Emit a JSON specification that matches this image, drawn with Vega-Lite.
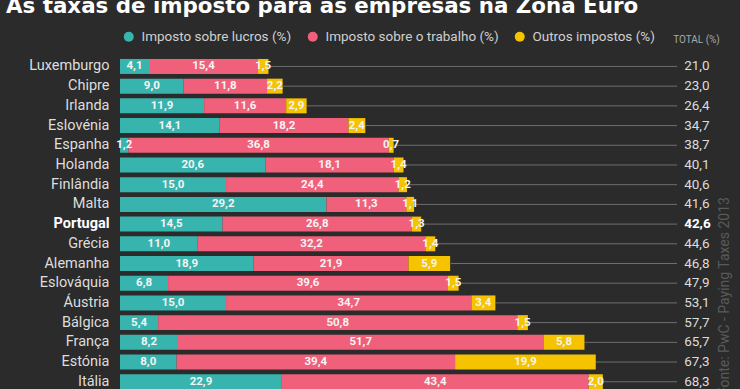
{
  "$schema": "https://vega.github.io/schema/vega-lite/v6.json",
  "width": 620,
  "height": 335,
  "autosize": {"type": "none"},
  "padding": {"left": 120, "top": 56.6, "right": 0, "bottom": 0},
  "background": "#2b2b2b",
  "title": {
    "text": "As taxas de imposto para as empresas na Zona Euro",
    "anchor": "start",
    "frame": "group",
    "dx": -114,
    "dy": 15,
    "fontSize": 21.4,
    "font": "DejaVu Sans",
    "fontWeight": "bold",
    "color": "#ffffff",
    "baseline": "alphabetic",
    "offset": 10
  },
  "datasets": {
    "segs": [
      {"pais": "Luxemburgo", "tipo": "Imposto sobre lucros (%)", "ordem": 1, "valor": 4.1},
      {"pais": "Luxemburgo", "tipo": "Imposto sobre o trabalho (%)", "ordem": 2, "valor": 15.4},
      {"pais": "Luxemburgo", "tipo": "Outros impostos (%)", "ordem": 3, "valor": 1.5},
      {"pais": "Chipre", "tipo": "Imposto sobre lucros (%)", "ordem": 1, "valor": 9.0},
      {"pais": "Chipre", "tipo": "Imposto sobre o trabalho (%)", "ordem": 2, "valor": 11.8},
      {"pais": "Chipre", "tipo": "Outros impostos (%)", "ordem": 3, "valor": 2.2},
      {"pais": "Irlanda", "tipo": "Imposto sobre lucros (%)", "ordem": 1, "valor": 11.9},
      {"pais": "Irlanda", "tipo": "Imposto sobre o trabalho (%)", "ordem": 2, "valor": 11.6},
      {"pais": "Irlanda", "tipo": "Outros impostos (%)", "ordem": 3, "valor": 2.9},
      {"pais": "Eslovénia", "tipo": "Imposto sobre lucros (%)", "ordem": 1, "valor": 14.1},
      {"pais": "Eslovénia", "tipo": "Imposto sobre o trabalho (%)", "ordem": 2, "valor": 18.2},
      {"pais": "Eslovénia", "tipo": "Outros impostos (%)", "ordem": 3, "valor": 2.4},
      {"pais": "Espanha", "tipo": "Imposto sobre lucros (%)", "ordem": 1, "valor": 1.2},
      {"pais": "Espanha", "tipo": "Imposto sobre o trabalho (%)", "ordem": 2, "valor": 36.8},
      {"pais": "Espanha", "tipo": "Outros impostos (%)", "ordem": 3, "valor": 0.7},
      {"pais": "Holanda", "tipo": "Imposto sobre lucros (%)", "ordem": 1, "valor": 20.6},
      {"pais": "Holanda", "tipo": "Imposto sobre o trabalho (%)", "ordem": 2, "valor": 18.1},
      {"pais": "Holanda", "tipo": "Outros impostos (%)", "ordem": 3, "valor": 1.4},
      {"pais": "Finlândia", "tipo": "Imposto sobre lucros (%)", "ordem": 1, "valor": 15.0},
      {"pais": "Finlândia", "tipo": "Imposto sobre o trabalho (%)", "ordem": 2, "valor": 24.4},
      {"pais": "Finlândia", "tipo": "Outros impostos (%)", "ordem": 3, "valor": 1.2},
      {"pais": "Malta", "tipo": "Imposto sobre lucros (%)", "ordem": 1, "valor": 29.2},
      {"pais": "Malta", "tipo": "Imposto sobre o trabalho (%)", "ordem": 2, "valor": 11.3},
      {"pais": "Malta", "tipo": "Outros impostos (%)", "ordem": 3, "valor": 1.1},
      {"pais": "Portugal", "tipo": "Imposto sobre lucros (%)", "ordem": 1, "valor": 14.5},
      {"pais": "Portugal", "tipo": "Imposto sobre o trabalho (%)", "ordem": 2, "valor": 26.8},
      {"pais": "Portugal", "tipo": "Outros impostos (%)", "ordem": 3, "valor": 1.3},
      {"pais": "Grécia", "tipo": "Imposto sobre lucros (%)", "ordem": 1, "valor": 11.0},
      {"pais": "Grécia", "tipo": "Imposto sobre o trabalho (%)", "ordem": 2, "valor": 32.2},
      {"pais": "Grécia", "tipo": "Outros impostos (%)", "ordem": 3, "valor": 1.4},
      {"pais": "Alemanha", "tipo": "Imposto sobre lucros (%)", "ordem": 1, "valor": 18.9},
      {"pais": "Alemanha", "tipo": "Imposto sobre o trabalho (%)", "ordem": 2, "valor": 21.9},
      {"pais": "Alemanha", "tipo": "Outros impostos (%)", "ordem": 3, "valor": 5.9},
      {"pais": "Eslováquia", "tipo": "Imposto sobre lucros (%)", "ordem": 1, "valor": 6.8},
      {"pais": "Eslováquia", "tipo": "Imposto sobre o trabalho (%)", "ordem": 2, "valor": 39.6},
      {"pais": "Eslováquia", "tipo": "Outros impostos (%)", "ordem": 3, "valor": 1.5},
      {"pais": "Áustria", "tipo": "Imposto sobre lucros (%)", "ordem": 1, "valor": 15.0},
      {"pais": "Áustria", "tipo": "Imposto sobre o trabalho (%)", "ordem": 2, "valor": 34.7},
      {"pais": "Áustria", "tipo": "Outros impostos (%)", "ordem": 3, "valor": 3.4},
      {"pais": "Bálgica", "tipo": "Imposto sobre lucros (%)", "ordem": 1, "valor": 5.4},
      {"pais": "Bálgica", "tipo": "Imposto sobre o trabalho (%)", "ordem": 2, "valor": 50.8},
      {"pais": "Bálgica", "tipo": "Outros impostos (%)", "ordem": 3, "valor": 1.5},
      {"pais": "França", "tipo": "Imposto sobre lucros (%)", "ordem": 1, "valor": 8.2},
      {"pais": "França", "tipo": "Imposto sobre o trabalho (%)", "ordem": 2, "valor": 51.7},
      {"pais": "França", "tipo": "Outros impostos (%)", "ordem": 3, "valor": 5.8},
      {"pais": "Estónia", "tipo": "Imposto sobre lucros (%)", "ordem": 1, "valor": 8.0},
      {"pais": "Estónia", "tipo": "Imposto sobre o trabalho (%)", "ordem": 2, "valor": 39.4},
      {"pais": "Estónia", "tipo": "Outros impostos (%)", "ordem": 3, "valor": 19.9},
      {"pais": "Itália", "tipo": "Imposto sobre lucros (%)", "ordem": 1, "valor": 22.9},
      {"pais": "Itália", "tipo": "Imposto sobre o trabalho (%)", "ordem": 2, "valor": 43.4},
      {"pais": "Itália", "tipo": "Outros impostos (%)", "ordem": 3, "valor": 2.0}
    ],
    "totais": [
      {"pais": "Luxemburgo", "total": 21.0},
      {"pais": "Chipre", "total": 23.0},
      {"pais": "Irlanda", "total": 26.4},
      {"pais": "Eslovénia", "total": 34.7},
      {"pais": "Espanha", "total": 38.7},
      {"pais": "Holanda", "total": 40.1},
      {"pais": "Finlândia", "total": 40.6},
      {"pais": "Malta", "total": 41.6},
      {"pais": "Portugal", "total": 42.6},
      {"pais": "Grécia", "total": 44.6},
      {"pais": "Alemanha", "total": 46.8},
      {"pais": "Eslováquia", "total": 47.9},
      {"pais": "Áustria", "total": 53.1},
      {"pais": "Bálgica", "total": 57.7},
      {"pais": "França", "total": 65.7},
      {"pais": "Estónia", "total": 67.3},
      {"pais": "Itália", "total": 68.3}
    ]
  },
  "encoding": {
    "y": {
      "field": "pais",
      "type": "nominal",
      "sort": ["Luxemburgo", "Chipre", "Irlanda", "Eslovénia", "Espanha", "Holanda", "Finlândia", "Malta", "Portugal", "Grécia", "Alemanha", "Eslováquia", "Áustria", "Bálgica", "França", "Estónia", "Itália"],
      "scale": {"paddingInner": 0.24, "paddingOuter": 0.12},
      "axis": {
        "title": null,
        "domain": false,
        "ticks": false,
        "labelPadding": 11,
        "labelFont": "Roboto",
        "labelFontSize": 14.5,
        "labelColor": {"expr": "datum.value == 'Portugal' ? '#ffffff' : '#dddddd'"},
        "labelFontWeight": {"expr": "datum.value == 'Portugal' ? 'bold' : 'normal'"}
      }
    }
  },
  "layer": [
    {
      "data": {"name": "totais"},
      "mark": {"type": "rule", "color": "#6e6e6e", "strokeWidth": 1},
      "encoding": {
        "x": {"field": "total", "type": "quantitative"},
        "x2": {"datum": 78.8}
      }
    },
    {
      "data": {"name": "segs"},
      "transform": [
        {"stack": "valor", "groupby": ["pais"], "sort": [{"field": "ordem"}], "as": ["v0", "v1"]}
      ],
      "mark": {"type": "bar"},
      "encoding": {
        "x": {
          "field": "v0",
          "type": "quantitative",
          "scale": {"domain": [0, 87.7], "nice": false, "zero": true},
          "axis": {
            "orient": "top",
            "domain": false,
            "ticks": false,
            "labels": false,
            "grid": false,
            "title": "TOTAL (%)",
            "titleFont": "Roboto",
            "titleFontSize": 10,
            "titleFontWeight": "normal",
            "titleColor": "#a8a8a8",
            "titleX": 576,
            "titleY": -16.6,
            "titleAlign": "center",
            "titleBaseline": "middle"
          }
        },
        "x2": {"field": "v1"},
        "color": {
          "field": "tipo",
          "type": "nominal",
          "sort": ["Imposto sobre lucros (%)", "Imposto sobre o trabalho (%)", "Outros impostos (%)"],
          "scale": {
            "domain": ["Imposto sobre lucros (%)", "Imposto sobre o trabalho (%)", "Outros impostos (%)"],
            "range": ["#38b4ae", "#f1607a", "#f5c300"]
          },
          "legend": {
            "title": null,
            "orient": "none",
            "direction": "horizontal",
            "legendX": 2,
            "legendY": -27,
            "symbolType": "circle",
            "symbolSize": 100,
            "symbolStrokeWidth": 0,
            "labelFont": "Roboto",
            "labelFontSize": 13.5,
            "labelLimit": 400,
            "labelColor": "#d0d0d0",
            "labelOffset": 6,
            "columnPadding": 14
          }
        }
      }
    },
    {
      "data": {"name": "segs"},
      "transform": [
        {"stack": "valor", "groupby": ["pais"], "sort": [{"field": "ordem"}], "as": ["v0", "v1"]},
        {"calculate": "(datum.v0 + datum.v1) / 2", "as": "meio"}
      ],
      "mark": {"type": "text", "font": "Roboto", "fontSize": 11.5, "fontWeight": "bold", "color": "#f4f4f4", "align": "center", "baseline": "middle"},
      "encoding": {
        "x": {"field": "meio", "type": "quantitative"},
        "text": {"field": "valor", "type": "quantitative", "format": ".1f"}
      }
    },
    {
      "data": {"name": "totais"},
      "transform": [{"filter": "datum.pais != 'Portugal'"}],
      "mark": {"type": "text", "font": "Roboto", "fontSize": 13.5, "color": "#dddddd", "align": "left", "baseline": "middle"},
      "encoding": {
        "x": {"datum": 79.8},
        "text": {"field": "total", "type": "quantitative", "format": ".1f"}
      }
    },
    {
      "data": {"name": "totais"},
      "transform": [{"filter": "datum.pais == 'Portugal'"}],
      "mark": {"type": "text", "font": "Roboto", "fontSize": 13.5, "fontWeight": "bold", "color": "#ffffff", "align": "left", "baseline": "middle"},
      "encoding": {
        "x": {"datum": 79.8},
        "text": {"field": "total", "type": "quantitative", "format": ".1f"}
      }
    },
    {
      "data": {"values": [{"fonte": "Fonte: PwC - Paying Taxes 2013"}]},
      "mark": {"type": "text", "font": "Roboto", "fontSize": 14, "color": "#5a5a5a", "angle": 270, "align": "right", "baseline": "middle", "dx": 27},
      "encoding": {
        "x": {"datum": 85.6},
        "y": {"datum": "Portugal", "type": "nominal"},
        "text": {"field": "fonte", "type": "nominal"}
      }
    }
  ],
  "config": {
    "view": {"stroke": null},
    "locale": {"number": {"decimal": ",", "thousands": ".", "grouping": [3], "currency": ["", " €"]}}
  }
}
